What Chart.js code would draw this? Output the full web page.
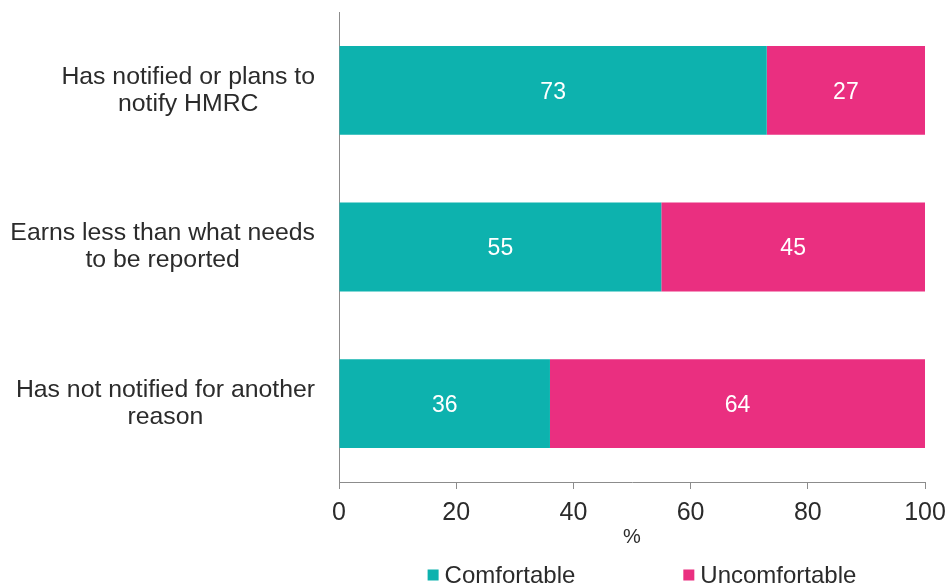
<!DOCTYPE html>
<html>
<head>
<meta charset="utf-8">
<script src="https://cdn.jsdelivr.net/npm/chart.js@4/dist/chart.umd.min.js"></script>
<style>
  html, body { margin: 0; padding: 0; background: #ffffff; }
  #wrap { width: 949px; height: 587px; }
</style>
</head>
<body>
<div id="wrap"><canvas id="chart" width="949" height="587"></canvas></div>
<script>
// Survey responses by notification status (%)
const categories = [
  ['Has notified or plans to', 'notify HMRC'],
  ['Earns less than what needs', 'to be reported'],
  ['Has not notified for another', 'reason']
];
const seriesNames = ['Comfortable', 'Uncomfortable'];
const comfortable = [73, 55, 36];
const uncomfortable = [27, 45, 64];
const xTicks = [0, 20, 40, 60, 80, 100];
const axisTitle = '%';

const TEAL = '#0DB2AE';
const PINK = '#EA2F80';
const FONT = "'Liberation Sans', Arial, sans-serif";
const TEXT = '#2b2b2b';

// Category labels: each label's lines centred on themselves, block right-aligned to the axis
const categoryLabels = {
  id: 'categoryLabels',
  afterDraw(chart) {
    const { ctx } = chart;
    const y = chart.scales.y;
    const right = chart.chartArea.left - 24;
    const lineH = 27;
    ctx.save();
    ctx.font = '24.8px ' + FONT;
    ctx.fillStyle = TEXT;
    ctx.textAlign = 'center';
    ctx.textBaseline = 'middle';
    categories.forEach((lines, i) => {
      const cy = y.getPixelForValue(i);
      const w = Math.max(...lines.map(l => ctx.measureText(l).width));
      const cx = right - w / 2;
      const top = cy - (lines.length - 1) * lineH / 2;
      lines.forEach((l, k) => ctx.fillText(l, cx, top + k * lineH));
    });
    ctx.restore();
  }
};

// White value labels centred in every bar segment
const valueLabels = {
  id: 'valueLabels',
  afterDatasetsDraw(chart) {
    const { ctx } = chart;
    ctx.save();
    ctx.font = '23px ' + FONT;
    ctx.fillStyle = '#ffffff';
    ctx.textAlign = 'center';
    ctx.textBaseline = 'middle';
    chart.data.datasets.forEach((ds, di) => {
      const meta = chart.getDatasetMeta(di);
      meta.data.forEach((bar, i) => {
        const v = ds.data[i];
        ctx.fillText(String(v), (bar.x + bar.base) / 2, bar.y + 2);
      });
    });
    ctx.restore();
  }
};

// Legend row with square swatches under the axis title
const bottomLegend = {
  id: 'bottomLegend',
  afterDraw(chart) {
    const { ctx } = chart;
    const box = 11, gapText = 6, gapItem = 108;
    const cy = 575;
    ctx.save();
    ctx.font = '24px ' + FONT;
    ctx.textBaseline = 'middle';
    ctx.textAlign = 'left';
    const items = chart.data.datasets.map(ds => ({
      label: ds.label, color: ds.backgroundColor,
      w: box + gapText + ctx.measureText(ds.label).width
    }));
    const total = items.reduce((s, it) => s + it.w, 0) + gapItem * (items.length - 1);
    let x = 642 - total / 2;
    items.forEach(it => {
      ctx.fillStyle = it.color;
      ctx.fillRect(x, cy - box / 2, box, box);
      ctx.fillStyle = TEXT;
      ctx.fillText(it.label, x + box + gapText, cy + 1);
      x += it.w + gapItem;
    });
    ctx.restore();
  }
};

new Chart(document.getElementById('chart'), {
  type: 'bar',
  data: {
    labels: categories,
    datasets: [
      { label: seriesNames[0], data: comfortable, backgroundColor: TEAL,
        barPercentage: 0.756, categoryPercentage: 0.75 },
      { label: seriesNames[1], data: uncomfortable, backgroundColor: PINK,
        barPercentage: 0.756, categoryPercentage: 0.75 }
    ]
  },
  options: {
    indexAxis: 'y',
    responsive: false,
    animation: false,
    layout: { padding: { top: 12, right: 24, bottom: 38, left: 0 } },
    plugins: {
      legend: { display: false },
      tooltip: { enabled: false }
    },
    scales: {
      x: {
        stacked: true,
        min: 0, max: 100,
        afterBuildTicks(scale) { scale.ticks = xTicks.map(v => ({ value: v })); },
        afterFit(scale) { scale.height = 67; scale.paddingRight = 0; scale.paddingLeft = 0; },
        grid: { drawOnChartArea: false, drawTicks: true, tickLength: 7, color: '#8c8c8c' },
        border: { color: '#8c8c8c', width: 1 },
        ticks: { font: { family: FONT, size: 25 }, color: TEXT, padding: 9 },
        title: { display: true, text: axisTitle, font: { family: FONT, size: 20 },
                 color: TEXT, padding: { top: 0, bottom: 0 } }
      },
      y: {
        stacked: true,
        grid: { display: false, drawTicks: false },
        border: { color: '#8c8c8c', width: 1 },
        ticks: { display: false },
        afterFit(scale) { scale.width = 339; }
      }
    }
  },
  plugins: [categoryLabels, valueLabels, bottomLegend]
});
</script>
</body>
</html>
